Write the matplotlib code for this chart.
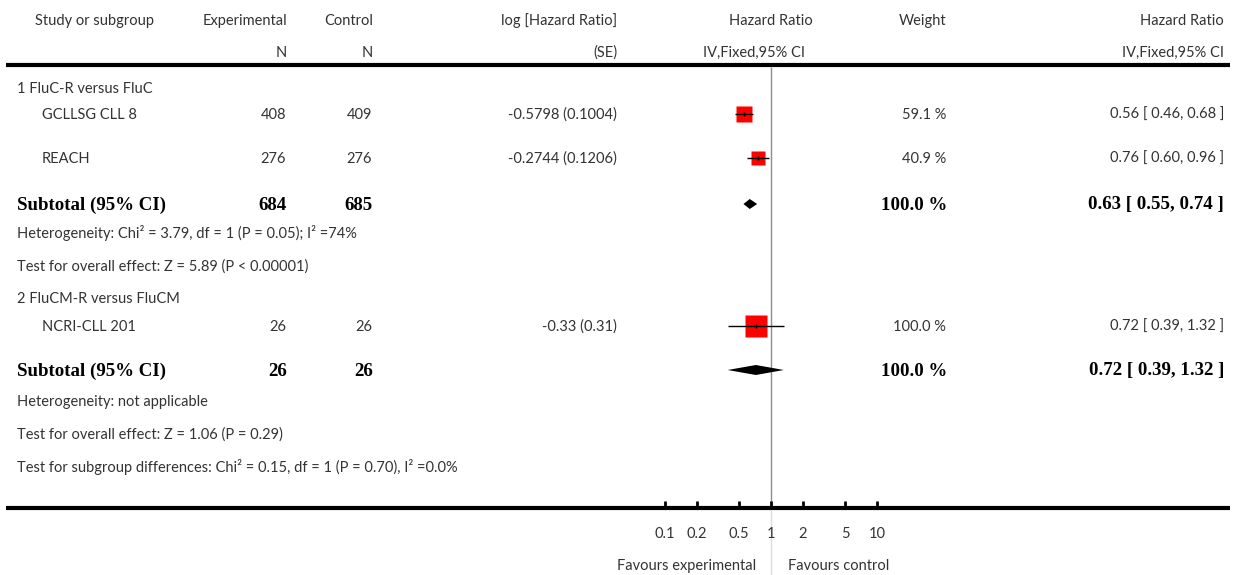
import matplotlib
matplotlib.use("Agg")
import matplotlib.pyplot as plt
import numpy as np

# study level data
study_names = ["GCLLSG CLL 8", "REACH", "NCRI-CLL 201"]
exp_n = [408, 276, 26]
ctrl_n = [409, 276, 26]
log_hr = [-0.5798, -0.2744, -0.33]
log_se = [0.1004, 0.1206, 0.31]
weights = [59.1, 40.9, 100.0]
hr = [0.56, 0.76, 0.72]
hr_lo = [0.46, 0.60, 0.39]
hr_hi = [0.68, 0.96, 1.32]

# subgroup totals
group_names = ["1 FluC-R versus FluC", "2 FluCM-R versus FluCM"]
sub_exp = [684, 26]
sub_ctrl = [685, 26]
sub_hr = [0.63, 0.72]
sub_lo = [0.55, 0.39]
sub_hi = [0.74, 1.32]
sub_notes = [
    ["Heterogeneity: Chi\u00b2 = 3.79, df = 1 (P = 0.05); I\u00b2 =74%",
     "Test for overall effect: Z = 5.89 (P < 0.00001)"],
    ["Heterogeneity: not applicable",
     "Test for overall effect: Z = 1.06 (P = 0.29)"],
]
footer = "Test for subgroup differences: Chi\u00b2 = 0.15, df = 1 (P = 0.70), I\u00b2 =0.0%"

tick_vals = [0.1, 0.2, 0.5, 1, 2, 5, 10]
tick_labels = ["0.1", "0.2", "0.5", "1", "2", "5", "10"]

W, H = 1234, 575
FONT = "Lato"
TXT = "#333333"
fs = 10.5
bold = dict(family="Liberation Serif", weight="bold", fontsize=13.6, color="black")
reg = dict(family=FONT, fontsize=fs, color=TXT)

fig = plt.figure(figsize=(W / 100, H / 100), dpi=100)
ax = fig.add_axes([0, 0, 1, 1])
ax.set_xlim(0, W)
ax.set_ylim(H, 0)
ax.axis("off")

# forest panel: log scale, 1.0 sits at x=771 px, one decade = 106 px
x_one, decade = 771, 106
fx = fig.add_axes([0, 0, 1, 1])
fx.set_xscale("log")
fx.set_xlim(10 ** ((0 - x_one) / decade), 10 ** ((W - x_one) / decade))
fx.set_ylim(H, 0)
fx.axis("off")
fx.patch.set_alpha(0)

# header
ax.text(35, 21, "Study or subgroup", ha="left", va="center", **reg)
ax.text(287, 21, "Experimental", ha="right", va="center", **reg)
ax.text(287, 53, "N", ha="right", va="center", **reg)
ax.text(373, 21, "Control", ha="right", va="center", **reg)
ax.text(373, 53, "N", ha="right", va="center", **reg)
ax.text(617, 21, "log [Hazard Ratio]", ha="right", va="center", **reg)
ax.text(617, 53, "(SE)", ha="right", va="center", **reg)
ax.text(813, 21, "Hazard Ratio", ha="right", va="center", **reg)
ax.text(805, 53, "IV,Fixed,95% CI", ha="right", va="center", **reg)
ax.text(946, 21, "Weight", ha="right", va="center", **reg)
ax.text(1224, 21, "Hazard Ratio", ha="right", va="center", **reg)
ax.text(1224, 53, "IV,Fixed,95% CI", ha="right", va="center", **reg)

ax.hlines(65, 6, 1230, color="black", lw=3)
ax.hlines(508, 6, 1230, color="black", lw=3)

# line of no effect
fx.vlines(1, 67, 506, color="#8c8c8c", lw=1)
fx.vlines(1, 510, H, color="#dcdcdc", lw=1)

group_y = [89, 299]
study_y = [115, 159, 327]
sub_y = [205, 371]
note_y = [[233, 267], [402, 435]]

for g, name in enumerate(group_names):
    ax.text(17, group_y[g], name, ha="left", va="center", **reg)

for i, name in enumerate(study_names):
    y = study_y[i]
    ax.text(42, y, name, ha="left", va="center", **reg)
    ax.text(286, y, str(exp_n[i]), ha="right", va="center", **reg)
    ax.text(372, y, str(ctrl_n[i]), ha="right", va="center", **reg)
    ax.text(617, y, f"{log_hr[i]:g} ({log_se[i]:g})", ha="right", va="center", **reg)
    ax.text(946, y, f"{weights[i]:.1f} %", ha="right", va="center", **reg)
    ax.text(1224, y, f"{hr[i]:.2f} [ {hr_lo[i]:.2f}, {hr_hi[i]:.2f} ]",
            ha="right", va="center", **reg)
    # square area follows study weight
    side = 2.2 * np.sqrt(weights[i])
    fx.plot(hr[i], y - 1, marker="s", ms=side * 0.72, color="#ff0000", mec="none", zorder=3)
    fx.hlines(y - 1, hr_lo[i], hr_hi[i], color="black", lw=1, zorder=4)
    fx.vlines(hr[i], y - 3, y + 1, color="black", lw=1, zorder=4)

for g in range(len(group_names)):
    y = sub_y[g]
    ax.text(17, y, "Subtotal (95% CI)", ha="left", va="center", **bold)
    ax.text(287, y, str(sub_exp[g]), ha="right", va="center", **bold)
    ax.text(373, y, str(sub_ctrl[g]), ha="right", va="center", **bold)
    ax.text(947, y, "100.0 %", ha="right", va="center", **bold)
    ax.text(1224, y, f"{sub_hr[g]:.2f} [ {sub_lo[g]:.2f}, {sub_hi[g]:.2f} ]",
            ha="right", va="center", **bold)
    fx.fill([sub_lo[g], sub_hr[g], sub_hi[g], sub_hr[g]],
            [y - 1, y - 6, y - 1, y + 4], color="black", lw=0, zorder=3)
    for k, note in enumerate(sub_notes[g]):
        ax.text(17, note_y[g][k], note, ha="left", va="center", **reg)

ax.text(17, 467, footer, ha="left", va="center", **reg)

# x axis ticks and labels
fx.vlines(tick_vals, 501, 508, color="black", lw=2)
for v, lab in zip(tick_vals, tick_labels):
    fx.text(v, 534, lab, ha="center", va="center", **reg)
fx.text(0.72, 566, "Favours experimental", ha="right", va="center", **reg)
fx.text(1.45, 566, "Favours control", ha="left", va="center", **reg)

fig.savefig("out.png", dpi=100)
